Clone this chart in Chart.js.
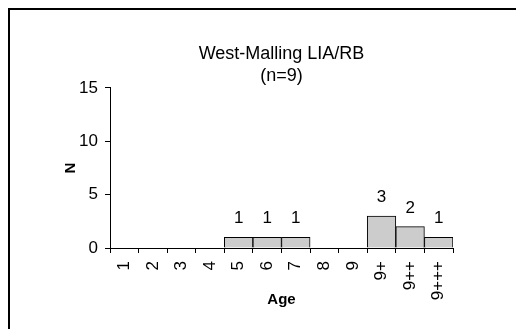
<!DOCTYPE html>
<html>
<head>
<meta charset="utf-8">
<script src="https://cdn.jsdelivr.net/npm/chart.js@4.4.0/dist/chart.umd.min.js"></script>
<style>
  html, body { margin:0; padding:0; background:#fff; }
  #wrap { position:relative; width:516px; height:329px; overflow:hidden; }
  #frame { position:absolute; left:8px; top:8px; width:600px; height:400px; border-top:2px solid #000; border-left:2px solid #000; }
  #c { position:absolute; left:0; top:0; }
</style>
</head>
<body>
<div id="wrap">
  <div id="frame"></div>
  <canvas id="c" width="516" height="329"></canvas>
</div>
<script>
// Daten
const ages = ['1','2','3','4','5','6','7','8','9','9+','9++','9+++'];
const counts = [0,0,0,0,1,1,1,0,0,3,2,1];
const titleLines = ['West-Malling LIA/RB','(n=9)'];
const yTicks = [0,5,10,15];

const FONT = '"Liberation Sans", Arial, sans-serif';

// Werte über den Balken
const barLabels = {
  id:'barLabels',
  afterDatasetsDraw(chart){
    const ctx = chart.ctx;
    const meta = chart.getDatasetMeta(0);
    ctx.save();
    ctx.font = '17px ' + FONT;
    ctx.fillStyle = '#000';
    ctx.textAlign = 'center';
    ctx.textBaseline = 'alphabetic';
    meta.data.forEach((bar,i)=>{
      const v = counts[i];
      if(!v) return;
      ctx.fillText(String(v), bar.x, bar.y - 14);
    });
    ctx.restore();
  }
};

new Chart(document.getElementById('c'),{
  type:'bar',
  data:{
    labels:ages,
    datasets:[{
      data:counts,
      backgroundColor:'#cccccc',
      borderColor:'#000',
      borderWidth:1,
      barPercentage:1,
      categoryPercentage:1
    }]
  },
  options:{
    responsive:false,
    animation:false,
    layout:{ padding:{ left:0, right:63, top:0, bottom:0 } },
    plugins:{
      legend:{ display:false },
      tooltip:{ enabled:false },
      title:{
        display:true,
        text:titleLines,
        fullSize:false,
        color:'#000',
        font:{ family:FONT, size:18, weight:'normal', lineHeight:1.22 },
        padding:{ top:43, bottom:1 }
      }
    },
    scales:{
      x:{
        grid:{ display:true, offset:true, drawOnChartArea:false, drawTicks:true, tickLength:5, color:'#000' },
        border:{ display:true, color:'#000', width:1 },
        ticks:{ color:'#000', font:{ family:FONT, size:17 }, minRotation:90, maxRotation:90, padding:8, autoSkip:false },
        title:{ display:true, text:'Age', color:'#000', font:{ family:FONT, size:15, weight:'bold' }, padding:{ top:0, bottom:20 } },
        afterFit(scale){ scale.height = 81; }
      },
      y:{
        min:0, max:15,
        afterBuildTicks(scale){ scale.ticks = yTicks.map(v=>({value:v})); },
        grid:{ display:true, drawOnChartArea:false, drawTicks:true, tickLength:5, color:'#000' },
        border:{ display:true, color:'#000', width:1 },
        ticks:{ color:'#000', font:{ family:FONT, size:17 }, padding:7 },
        title:{ display:true, text:'N', color:'#000', font:{ family:FONT, size:15, weight:'bold' }, padding:{ top:62, bottom:0 } },
        afterFit(scale){ scale.width = 110; }
      }
    }
  },
  plugins:[barLabels]
});
</script>
</body>
</html>
